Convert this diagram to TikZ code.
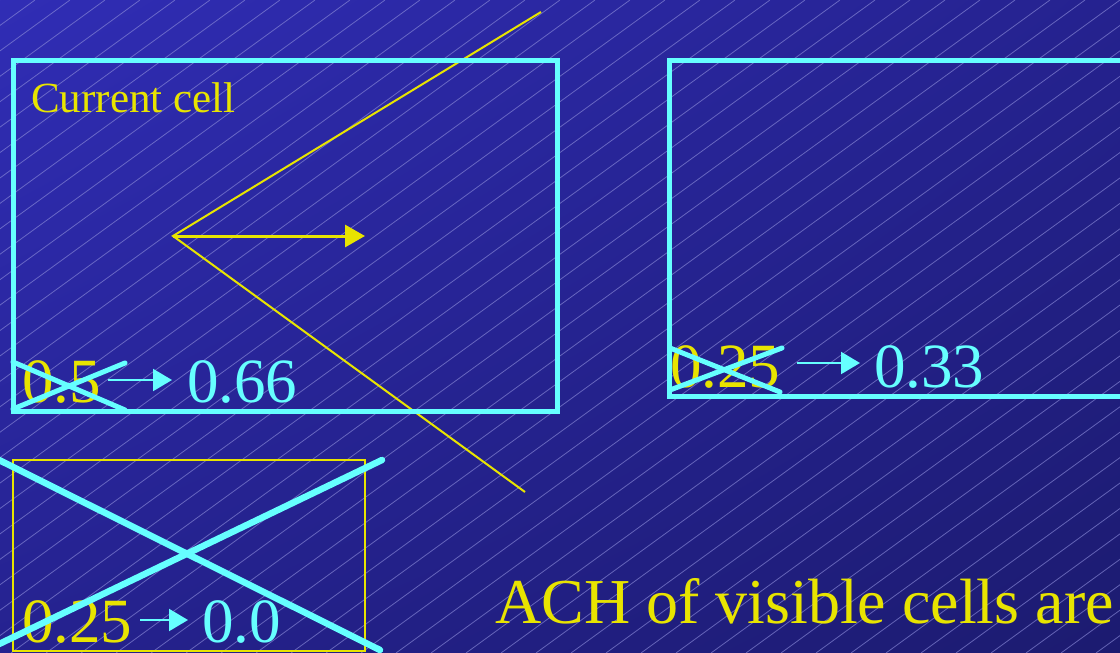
\documentclass[tikz,border=0pt]{standalone}
\usepackage{fontspec}
\setmainfont{Liberation Serif}
\usetikzlibrary{arrows.meta,shadings}
\definecolor{cyanc}{HTML}{66FFFF}
\definecolor{yel}{HTML}{E8E400}
\definecolor{bgA}{HTML}{302DB5}
\definecolor{bgB}{HTML}{25228F}
\definecolor{bgC}{HTML}{1C1B70}
\definecolor{hatch}{HTML}{8A8AD8}
\tikzset{
  cellbox/.style={draw=cyanc, line width=5pt, line join=miter},
  cross/.style={draw=cyanc, line width=5pt, line cap=round},
  bigcross/.style={draw=cyanc, line width=6.5pt, line cap=round},
  ray/.style={draw=yel, line width=2pt},
  numold/.style={text=yel, font=\fontsize{63}{72}\selectfont, anchor=base west, inner sep=0pt},
  numnew/.style={text=cyanc, font=\fontsize{63}{72}\selectfont, anchor=base west, inner sep=0pt},
  valarrow/.style={draw=cyanc, line width=2.2pt, -{Triangle[length=19pt,width=22pt]}},
  dirarrow/.style={draw=yel, line width=3pt, -{Triangle[length=20pt,width=22pt]}},
  label/.style={text=yel, anchor=base west, inner sep=0pt}
}
\begin{document}
\begin{tikzpicture}[x=1pt,y=-1pt]
\useasboundingbox (0,0) rectangle (1120,653);
\begin{scope}
\clip (0,0) rectangle (1120,653);
\shade[upper left=bgA, upper right=bgB, lower left=bgB, lower right=bgC] (0,0) rectangle (1120,653);
\foreach \i in {0,...,58}{
  \draw[hatch, line width=0.8pt, opacity=0.65] (35*\i,0) -- ({35*\i-899},653);
}
% yellow view rays
\coordinate (apex) at (173,236);
\coordinate (rayA) at (541,12);
\coordinate (rayB) at (525,492);
\coordinate (dirEnd) at (365,236);
\draw[ray] (rayA) -- (apex) -- (rayB);
\draw[dirarrow] (apex) -- (dirEnd);
% box 1
\draw[cellbox] (13,60) rectangle (557,411);
\node[label, font=\fontsize{43}{50}\selectfont] (cur) at (31,112) {Current cell};
\node[numold] (o1) at (22,402) {0.5};
\node[numnew] (n1) at (187,402) {0.66};
\coordinate (a1s) at (108,380);
\coordinate (a1e) at (172,380);
\draw[valarrow] (a1s) -- (a1e);
\draw[cross] (13,362) -- (125,410);
\draw[cross] (13,409) -- (125,363);
% box 2
\draw[cellbox] (669,60) rectangle (1135,396);
\node[numold] (o2) at (670,387) {0.25};
\node[numnew] (n2) at (874,387) {0.33};
\coordinate (a2s) at (797,363);
\coordinate (a2e) at (860,363);
\draw[valarrow] (a2s) -- (a2e);
\draw[cross] (670,348) -- (780,392);
\draw[cross] (670,390) -- (782,348);
% box 3
\draw[draw=yel, line width=2pt] (13,460) rectangle (365,651);
\node[numold] (o3) at (22,642) {0.25};
\node[numnew] (n3) at (202,642) {0.0};
\coordinate (a3s) at (140,620);
\coordinate (a3e) at (188,620);
\draw[valarrow] (a3s) -- (a3e);
\draw[bigcross] (-5,458) -- (380,650);
\draw[bigcross] (-5,646) -- (382,460);
% caption
\node[label, font=\fontsize{64}{74}\selectfont] (cap) at (495,623) {ACH of visible cells are};
\end{scope}
\end{tikzpicture}
\end{document}
